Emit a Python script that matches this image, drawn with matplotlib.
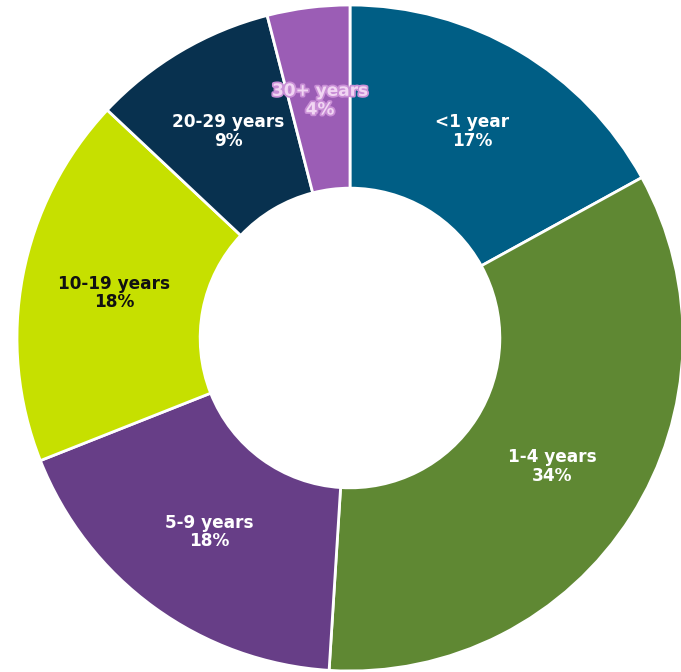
import matplotlib.pyplot as plt
import matplotlib.patheffects as pe

labels = ["<1 year", "1-4 years", "5-9 years", "10-19 years", "20-29 years", "30+ years"]
shares = [17, 34, 18, 18, 9, 4]
colors = ["#005e85", "#5f8833", "#673e87", "#c6e000", "#08314f", "#9b5db5"]
text_colors = ["white", "white", "white", "#111111", "white", "#f1d6f3"]

R = 333.0
cx, cy = 350.0, 338.0
W, H = 681, 672

fig = plt.figure(figsize=(W / 100, H / 100), dpi=100)
ax = fig.add_axes([0, 0, 1, 1])
ax.axis("off")

wedges, texts = ax.pie(
    shares, colors=colors, startangle=90, counterclock=False, radius=1.0,
    wedgeprops=dict(width=0.55, edgecolor="white", linewidth=2),
    labels=[f"{l}\n{s}%" for l, s in zip(labels, shares)], labeldistance=0.72,
    textprops=dict(fontsize=12.2, fontweight="bold", family="DejaVu Sans",
                   ha="center", va="center", linespacing=1.05),
)
ax.set_aspect("auto")
ax.set_xlim(-cx / R, (W - cx) / R)
ax.set_ylim(-(H - cy) / R, cy / R)

for t, c in zip(texts, text_colors):
    t.set_color(c)
    t.set_horizontalalignment("center")
texts[-1].set_path_effects([pe.withStroke(linewidth=2.5, foreground="#c98fd6")])

fig.savefig("out.png", dpi=100)
